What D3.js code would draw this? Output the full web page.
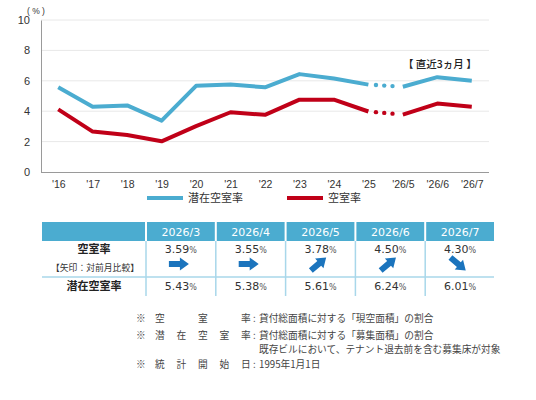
<!DOCTYPE html>
<html><head><meta charset="utf-8">
<script src="https://cdn.jsdelivr.net/npm/d3@7/dist/d3.min.js"></script>
<style>
body{margin:0;background:#fff;}
svg{display:block;}
</style></head>
<body>
<svg id="c" width="536" height="400"></svg>
<script>
const categories = ["'16","'17","'18","'19","'20","'21","'22","'23","'24","'25","'26/5","'26/6","'26/7"];
const potentialRate = [5.57,4.30,4.38,3.38,5.67,5.76,5.57,6.44,6.15,5.75,5.61,6.24,6.01];
const vacancyRate   = [4.12,2.66,2.43,2.02,3.02,3.93,3.76,4.76,4.76,3.98,3.78,4.50,4.30];
const yTicks = [0,2,4,6,8,10];
const seriesNames = ["潜在空室率","空室率"];

const tableMonths = ["2026/3","2026/4","2026/5","2026/6","2026/7"];
const tableVacancy = [3.59,3.55,3.78,4.50,4.30];
const tablePotential = [5.43,5.38,5.61,6.24,6.01];
const tableTrend = ["flat","flat","up","up","down"];

const notes = [
  {label:"空室率", text:"貸付総面積に対する「現空面積」の割合"},
  {label:"潜在空室率", text:"貸付総面積に対する「募集面積」の割合"},
  {label:"", text:"既存ビルにおいて、テナント退去前を含む募集床が対象"},
  {label:"統計開始日", text:"1995年1月1日"}
];

const BLUE = "#4bacd0", RED = "#c00018", ARROW = "#1b74bd", GRID = "#e8e8e8", LINEC = "#a8d7ea";
const svg = d3.select("#c");
const FONT = "'Liberation Sans', Arial, sans-serif";
const JP = "'Noto Sans CJK JP', sans-serif";

const x = d3.scalePoint().domain(categories).range([41,489]).padding(0.5);
const y = d3.scaleLinear().domain([0,10]).range([172,20]);

// grid
svg.append("g").selectAll("line").data(yTicks.filter(d=>d>0)).join("line")
  .attr("x1",41).attr("x2",489).attr("y1",d=>y(d)).attr("y2",d=>y(d))
  .attr("stroke",GRID).attr("stroke-width",1);

// axes
const ya = svg.append("g").attr("transform","translate(41,0)")
  .call(d3.axisLeft(y).tickValues(yTicks).tickSize(0).tickPadding(11));
ya.select(".domain").attr("stroke","#9a9a9a");
ya.selectAll("text").attr("font-family",FONT).attr("font-size",11).attr("fill","#333");

const xa = svg.append("g").attr("transform","translate(0,172)")
  .call(d3.axisBottom(x).tickSize(0).tickPadding(9));
xa.select(".domain").attr("stroke","#9a9a9a").attr("d","M41,0.5H489");
xa.selectAll("text").attr("font-family",FONT).attr("font-size",10.5).attr("fill","#333");

svg.append("text").attr("x",27).attr("y",14).attr("font-family",FONT).attr("font-size",8.5)
  .attr("fill","#333").text("( % )");

// lines
function drawSeries(vals,color){
  const pts = vals.map((v,i)=>({v,i}));
  const a = pts.slice(0,10), b = pts.slice(10);
  [a,b].forEach(seg=>{
    svg.append("path").datum(seg)
      .attr("d",d3.line().x(d=>x(categories[d.i])).y(d=>y(d.v)))
      .attr("fill","none").attr("stroke",color).attr("stroke-width",4)
      .attr("stroke-linejoin","round");
  });
  const p0 = pts[9], p1 = pts[10];
  [0.22,0.46,0.70].forEach(t=>{
    svg.append("circle")
      .attr("cx", x(categories[p0.i]) + t*(x(categories[p1.i])-x(categories[p0.i])))
      .attr("cy", y(p0.v) + t*(y(p1.v)-y(p0.v)))
      .attr("r",2.2).attr("fill",color);
  });
}
drawSeries(potentialRate,BLUE);
drawSeries(vacancyRate,RED);

svg.append("text").attr("x",403).attr("y",68).attr("font-family",JP).attr("font-size",10.5)
  .attr("fill","#222").attr("font-weight",500).text("【 直近3ヵ月 】");

// legend
const legend = [{name:seriesNames[0],color:BLUE,x:147},{name:seriesNames[1],color:RED,x:287}];
legend.forEach(l=>{
  svg.append("line").attr("x1",l.x).attr("x2",l.x+36).attr("y1",198).attr("y2",198)
    .attr("stroke",l.color).attr("stroke-width",4);
  svg.append("text").attr("x",l.x+41).attr("y",202).attr("font-family",JP).attr("font-size",11)
    .attr("fill","#333").text(l.name);
});

// table
const col = d3.scaleBand().domain(tableMonths).range([145,494]);
const TNUM = "'DejaVu Sans', Verdana, sans-serif";
svg.append("rect").attr("x",42).attr("y",222).attr("width",103).attr("height",19).attr("fill",BLUE);
svg.selectAll(".hd").data(tableMonths).join("rect")
  .attr("x",d=>col(d)+2).attr("y",222).attr("width",col.bandwidth()-2).attr("height",19).attr("fill",BLUE);
svg.selectAll(".ht").data(tableMonths).join("text")
  .attr("x",d=>col(d)+1+col.bandwidth()/2).attr("y",236).attr("text-anchor","middle")
  .attr("font-family",TNUM).attr("font-size",11).attr("fill","#fff").text(d=>d);
svg.append("line").attr("x1",42).attr("x2",494).attr("y1",277).attr("y2",277)
  .attr("stroke",LINEC).attr("stroke-width",1.5);
svg.selectAll(".vl").data(tableMonths).join("line")
  .attr("x1",d=>col(d)+1).attr("x2",d=>col(d)+1).attr("y1",241).attr("y2",296)
  .attr("stroke",LINEC).attr("stroke-width",1.5);

svg.append("text").attr("x",94).attr("y",253).attr("text-anchor","middle").attr("font-family",JP)
  .attr("font-size",11).attr("font-weight","bold").attr("fill","#222").text("空室率");
svg.append("text").attr("x",95).attr("y",271).attr("text-anchor","middle").attr("font-family",JP)
  .attr("font-size",8.8).attr("fill","#333").text("【矢印：対前月比較】");
svg.append("text").attr("x",94).attr("y",290).attr("text-anchor","middle").attr("font-family",JP)
  .attr("font-size",11).attr("font-weight","bold").attr("fill","#222").text("潜在空室率");

function valText(vals,yy){
  const t = svg.selectAll(null).data(vals).join("text")
    .attr("x",(d,i)=>col(tableMonths[i])+1+col.bandwidth()/2).attr("y",yy)
    .attr("text-anchor","middle").attr("font-family",TNUM).attr("fill","#333");
  t.append("tspan").attr("font-size",11).text(d=>d.toFixed(2));
  t.append("tspan").attr("font-size",8).attr("fill","#555").text("%");
}
valText(tableVacancy,253);
valText(tablePotential,290);

const rot = {flat:0, up:-40, down:40};
svg.selectAll(".ar").data(tableTrend).join("path")
  .attr("d","M-10,-3L1,-3L1,-6.5L10,0L1,6.5L1,3L-10,3Z")
  .attr("fill",ARROW)
  .attr("transform",(d,i)=>`translate(${col(tableMonths[i])+col.bandwidth()/2-1},264) rotate(${rot[d]})`);

// footnotes
const noteY = [322,339,353,368];
const NF = 9.7;
notes.forEach((n,k)=>{
  const yy = noteY[k];
  if(n.label){
    svg.append("text").attr("x",136).attr("y",yy).attr("font-family",JP).attr("font-size",NF)
      .attr("fill","#444").text("※");
    const chars = Array.from(n.label);
    const step = (241-155)/(chars.length-1);
    chars.forEach((c,j)=>{
      svg.append("text").attr("x",155+j*step).attr("y",yy).attr("font-family",JP).attr("font-size",NF)
        .attr("fill","#444").text(c);
    });
    svg.append("text").attr("x",253).attr("y",yy).attr("font-family",JP).attr("font-size",NF)
      .attr("fill","#444").text(":");
  }
  svg.append("text").attr("x",259).attr("y",yy).attr("font-family",JP).attr("font-size",NF)
    .attr("fill","#444").text(n.text);
});
</script>
</body></html>
